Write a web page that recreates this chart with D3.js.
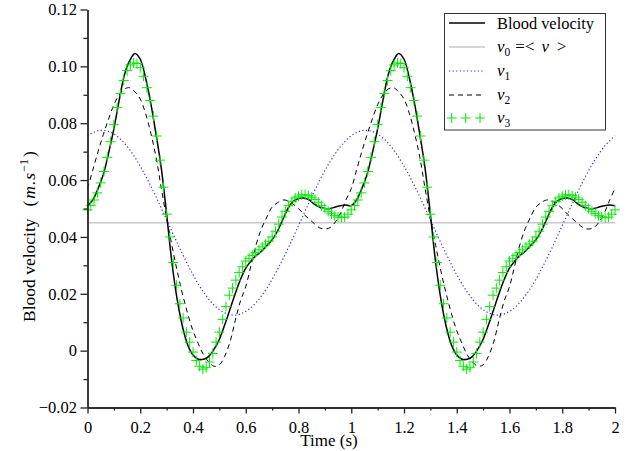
<!DOCTYPE html>
<html>
<head>
<meta charset="utf-8">
<script src="https://cdn.jsdelivr.net/npm/d3@7"></script>
<style>
  body { margin: 0; background: #fff; }
  text { font-family: "Liberation Serif", "Times New Roman", serif; fill: #000; }
</style>
</head>
<body>
<script>
var periods = [0, 1];

// sample times for the line series
var tLine = d3.range(51).map(function(i) { return i * 0.02; });
var tBlue = d3.range(26).map(function(i) { return i * 0.04; });
var tPlus = d3.range(81).map(function(i) { return i * 0.0125; });

var meanVelocity = 0.045;

var bloodVelocity = [
  0.051, 0.053, 0.057, 0.062, 0.0695, 0.078, 0.088, 0.097, 0.102, 0.1045,
  0.1025, 0.096, 0.087, 0.076, 0.064, 0.048, 0.031, 0.018, 0.0085, 0.002,
  -0.0015, -0.003, -0.003, -0.002, 0.0005, 0.004, 0.009, 0.0145, 0.020, 0.025,
  0.029, 0.0315, 0.0335, 0.035, 0.037, 0.039, 0.042, 0.046, 0.050, 0.0525,
  0.0535, 0.0537, 0.053, 0.0515, 0.0505, 0.050, 0.050, 0.0505, 0.051, 0.0512,
  0.051
];

var v1 = [
  0.0756, 0.0774, 0.0771, 0.0748, 0.0707, 0.0649, 0.0579, 0.0501, 0.0419, 0.0340,
  0.0267, 0.0206, 0.0160, 0.0133, 0.0125, 0.0138, 0.0170, 0.0220, 0.0285, 0.0359,
  0.0440, 0.0521, 0.0598, 0.0665, 0.0719, 0.0756
];

var v2 = [
  0.057, 0.0635, 0.070, 0.076, 0.0815, 0.0865, 0.090, 0.092, 0.0925, 0.091,
  0.0885, 0.0835, 0.0765, 0.068, 0.057, 0.0465, 0.037, 0.028, 0.020, 0.013,
  0.007, 0.0025, -0.0015, -0.004, -0.0055, -0.005, -0.002, 0.003, 0.0105, 0.0175,
  0.0225, 0.030, 0.0375, 0.043, 0.047, 0.0505, 0.052, 0.053, 0.0527, 0.0515,
  0.050, 0.048, 0.0463, 0.0447, 0.0432, 0.0428, 0.0433, 0.0453, 0.0485, 0.053,
  0.057
];

var v3 = [
  0.0495, 0.0510, 0.0530, 0.0555, 0.0590, 0.0630, 0.0680, 0.0735, 0.0795, 0.0855,
  0.0905, 0.0950, 0.0985, 0.1005, 0.1012, 0.1010, 0.0995, 0.0965, 0.0925, 0.0880,
  0.0825, 0.0755, 0.0670, 0.0575, 0.0480, 0.0400, 0.0310, 0.0230, 0.0165, 0.0115,
  0.0065, 0.0030, -0.0005, -0.0035, -0.0055, -0.0065, -0.0060, -0.0040, -0.0010, 0.0030,
  0.0065, 0.0110, 0.0155, 0.0195, 0.0220, 0.0248, 0.0275, 0.0295, 0.0315, 0.0325,
  0.0335, 0.0345, 0.0355, 0.0365, 0.0375, 0.0385, 0.0400, 0.0420, 0.0445, 0.0470,
  0.0490, 0.0510, 0.0525, 0.0537, 0.0543, 0.0548, 0.0548, 0.0545, 0.0540, 0.0532,
  0.0522, 0.0510, 0.0500, 0.0490, 0.0482, 0.0475, 0.0470, 0.0468, 0.0470, 0.0480,
  0.0495
];

var xMajor = [0, 0.2, 0.4, 0.6, 0.8, 1, 1.2, 1.4, 1.6, 1.8, 2];
var xMinor = [0.1, 0.3, 0.5, 0.7, 0.9, 1.1, 1.3, 1.5, 1.7, 1.9];
var yMajor = [-0.02, 0, 0.02, 0.04, 0.06, 0.08, 0.10, 0.12];
var yMinor = [-0.01, 0.01, 0.03, 0.05, 0.07, 0.09, 0.11];

// turn one period into points over both periods
function unroll(times, values) {
  var pts = [];
  periods.forEach(function(p, k) {
    times.forEach(function(t, i) {
      if (k > 0 && i === 0) return;
      pts.push([t + p, values[i]]);
    });
  });
  return pts;
}

var width = 629, height = 451;
var serif = "Liberation Serif, Times New Roman, serif";
var svg = d3.select("body").append("svg")
            .attr("width", width)
            .attr("height", height);

var x = d3.scaleLinear().domain([0, 2]).range([87.5, 615]);
var y = d3.scaleLinear().domain([-0.02, 0.12]).range([407.5, 9.5]);

var line = d3.line()
             .x(function(d) { return x(d[0]); })
             .y(function(d) { return y(d[1]); })
             .curve(d3.curveCatmullRom);

// mean
svg.append("line")
   .attr("x1", x(0)).attr("x2", x(2))
   .attr("y1", y(meanVelocity)).attr("y2", y(meanVelocity))
   .attr("stroke", "#c8c8c8")
   .attr("stroke-width", 1.5);

svg.append("path")
   .attr("d", line(unroll(tBlue, v1)))
   .attr("fill", "none")
   .attr("stroke", "#2a2aff")
   .attr("stroke-width", 1.2)
   .attr("stroke-dasharray", "1.2,2.4");

svg.append("path")
   .attr("d", line(unroll(tLine, v2)))
   .attr("fill", "none")
   .attr("stroke", "#000")
   .attr("stroke-width", 1)
   .attr("stroke-dasharray", "5,4");

svg.append("path")
   .attr("d", line(unroll(tLine, bloodVelocity)))
   .attr("fill", "none")
   .attr("stroke", "#000")
   .attr("stroke-width", 1.5);

function plusPath(s) {
  return "M" + (-s) + ",0H" + s + "M0," + (-s) + "V" + s;
}

svg.append("g")
   .selectAll("path.v3")
   .data(unroll(tPlus, v3))
   .enter()
     .append("path")
     .classed("v3", true)
     .attr("transform", function(d) { return "translate(" + x(d[0]) + "," + y(d[1]) + ")"; })
     .attr("d", plusPath(5))
     .attr("fill", "none")
     .attr("stroke", "#00ee00")
     .attr("stroke-width", 1);

// axes
var fmtY = function(d) { return d === 0 ? "0" : d3.format(".2f")(d); };

svg.append("g")
   .attr("transform", "translate(" + x(0) + ",0)")
   .call(d3.axisLeft(y).tickValues(yMajor).tickSize(7).tickSizeOuter(0)
           .tickPadding(3.5).tickFormat(fmtY));
svg.append("g")
   .attr("transform", "translate(" + x(0) + ",0)")
   .call(d3.axisLeft(y).tickValues(yMinor).tickSize(4).tickSizeOuter(0).tickFormat(""));

svg.append("g")
   .attr("transform", "translate(0," + y(-0.02) + ")")
   .call(d3.axisBottom(x).tickValues(xMajor).tickSize(6).tickSizeOuter(0)
           .tickPadding(8).tickFormat(d3.format("~g")));
svg.append("g")
   .attr("transform", "translate(0," + y(-0.02) + ")")
   .call(d3.axisBottom(x).tickValues(xMinor).tickSize(3).tickSizeOuter(0).tickFormat(""));

svg.selectAll("g").attr("font-family", serif).attr("font-size", 16.5);
svg.selectAll(".domain, .tick line").attr("stroke", "#222").attr("stroke-width", 1.3);
svg.selectAll(".tick text")
   .attr("font-family", serif)
   .attr("font-size", 16.5)
   .attr("fill", "#111");

// axis titles (sits just under the tick labels)
svg.append("text")
   .attr("x", 329).attr("y", 446)
   .attr("text-anchor", "middle")
   .style("font-size", "17px")
   .text("Time (s)");

var yl = svg.append("text")
   .attr("transform", "translate(35,322) rotate(-90)")
   .style("font-size", "17.5px");
yl.append("tspan").text("Blood velocity");
yl.append("tspan").attr("dx", 12).text("(");
yl.append("tspan").attr("dx", 2).style("font-style", "italic").text("m");
yl.append("tspan").attr("dx", 1).style("font-style", "italic").text(".");
yl.append("tspan").attr("dx", 1).style("font-style", "italic").text("s");
yl.append("tspan").attr("dy", -7).attr("dx", 1).style("font-size", "12px").text("\u22121");
yl.append("tspan").attr("dy", 7).attr("dx", 2).text(")");

// legend
var legend = svg.append("g");
legend.append("rect")
      .attr("x", 444.5).attr("y", 13.5)
      .attr("width", 161).attr("height", 116.5)
      .attr("fill", "#fff")
      .attr("stroke", "#333")
      .attr("stroke-width", 1);

var rowY = [23, 47, 71, 95, 118];
var sx1 = 449, sx2 = 485, tx = 497;

legend.append("line").attr("x1", sx1).attr("x2", sx2).attr("y1", rowY[0]).attr("y2", rowY[0])
      .attr("stroke", "#000").attr("stroke-width", 1.5);
legend.append("line").attr("x1", sx1).attr("x2", sx2).attr("y1", rowY[1]).attr("y2", rowY[1])
      .attr("stroke", "#c8c8c8").attr("stroke-width", 1.5);
legend.append("line").attr("x1", sx1).attr("x2", sx2).attr("y1", rowY[2]).attr("y2", rowY[2])
      .attr("stroke", "#2a2aff").attr("stroke-width", 1.2).attr("stroke-dasharray", "1.2,2.4");
legend.append("line").attr("x1", sx1).attr("x2", sx2).attr("y1", rowY[3]).attr("y2", rowY[3])
      .attr("stroke", "#000").attr("stroke-width", 1).attr("stroke-dasharray", "5,4");
legend.selectAll("path.lg")
      .data([451.7, 465.7, 480])
      .enter()
        .append("path")
        .attr("transform", function(d) { return "translate(" + d + "," + rowY[4] + ")"; })
        .attr("d", plusPath(5))
        .attr("stroke", "#00ee00")
        .attr("stroke-width", 1);

legend.append("text").attr("x", tx).attr("y", rowY[0] + 5.5)
      .style("font-size", "16.4px").text("Blood velocity");

function vText(row, sub) {
  var t = legend.append("text").attr("x", tx).attr("y", rowY[row] + 5)
                .style("font-size", "17px");
  t.append("tspan").style("font-style", "italic").text("v");
  t.append("tspan").attr("dy", 4).style("font-size", "11.5px").text(sub);
  return t;
}
var t0 = vText(1, "0");
t0.append("tspan").attr("dy", -4).attr("dx", 5).text("=<");
t0.append("tspan").attr("dx", 7).style("font-style", "italic").text("v");
t0.append("tspan").attr("dx", 8).text(">");
vText(2, "1");
vText(3, "2");
vText(4, "3");
</script>
</body>
</html>
